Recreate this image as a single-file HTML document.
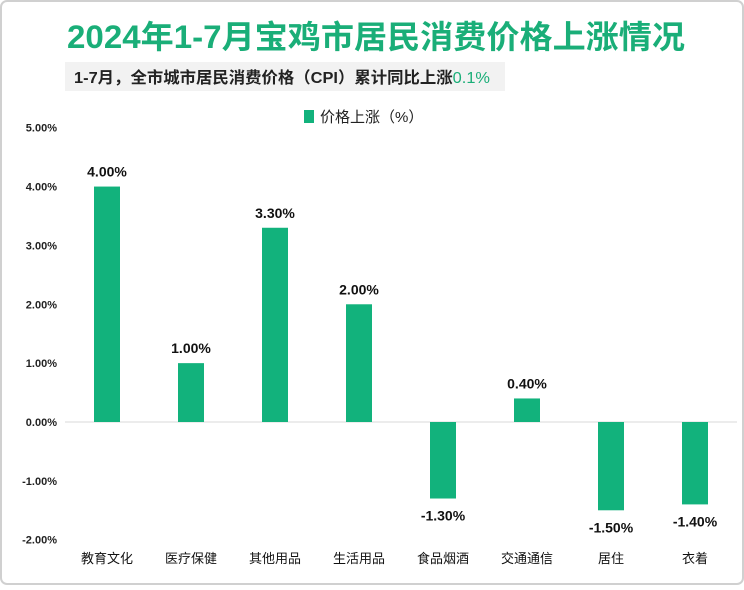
<!DOCTYPE html>
<html><head><meta charset="utf-8"><style>
body{margin:0;background:#fff;}
svg text{font-family:"Liberation Sans","Noto Sans CJK SC",sans-serif;}
</style></head><body>
<svg width="744" height="585" xmlns="http://www.w3.org/2000/svg">
<rect x="1" y="1" width="742" height="583" rx="6" fill="#fff" stroke="#d0d0d0" stroke-width="2"/>
<text x="376" y="48" text-anchor="middle" font-size="32" font-weight="bold" fill="#1aae78" textLength="618" lengthAdjust="spacingAndGlyphs">2024年1-7月宝鸡市居民消费价格上涨情况</text>
<rect x="65" y="62" width="440" height="29" fill="#f2f2f2"/>
<text x="74" y="83" font-size="16" font-weight="bold" fill="#222" textLength="416" lengthAdjust="spacingAndGlyphs">1-7月，全市城市居民消费价格（CPI）累计同比上涨<tspan fill="#1aae78" font-weight="normal">0.1%</tspan></text>
<rect x="304" y="110" width="10" height="13" fill="#12b27c"/>
<text x="320" y="122" font-size="15" fill="#222">价格上涨（%）</text>
<g id="plot"></g>
</svg>
<script>
const categories=["教育文化","医疗保健","其他用品","生活用品","食品烟酒","交通通信","居住","衣着"];
const values=[4.00,1.00,3.30,2.00,-1.30,0.40,-1.50,-1.40];
const yTicks=[5,4,3,2,1,0,-1,-2];
const ns="http://www.w3.org/2000/svg";
const g=document.getElementById("plot");
const y=v=>422-v*58.86;
const x=i=>107+i*84;
function el(t,a){const e=document.createElementNS(ns,t);for(const k in a)e.setAttribute(k,a[k]);g.appendChild(e);return e;}
yTicks.forEach(t=>{
 const e=el("text",{x:57,y:y(t)+4,"text-anchor":"end","font-size":"11","font-weight":"bold",fill:"#222"});
 e.textContent=t.toFixed(2)+"%";
 
 
});
const ax=el("line",{x1:65,x2:737,y1:y(0),y2:y(0),stroke:"#d9d9d9","stroke-width":1});


values.forEach((v,i)=>{
 const top=Math.min(y(v),y(0)),h=Math.abs(y(v)-y(0));
 const b=el("rect",{x:x(i)-13,y:top,width:26,height:h,fill:"#12b27c"});
 
 
 const lbl=el("text",{x:x(i),y:v>=0?y(v)-10:y(v)+22,"text-anchor":"middle","font-size":"14","font-weight":"bold",fill:"#111"});
 lbl.textContent=v.toFixed(2)+"%";
 
 
 const c=el("text",{x:x(i),y:563,"text-anchor":"middle","font-size":"13",fill:"#111"});
 c.textContent=categories[i];
 
 
});
</script>
</body></html>
